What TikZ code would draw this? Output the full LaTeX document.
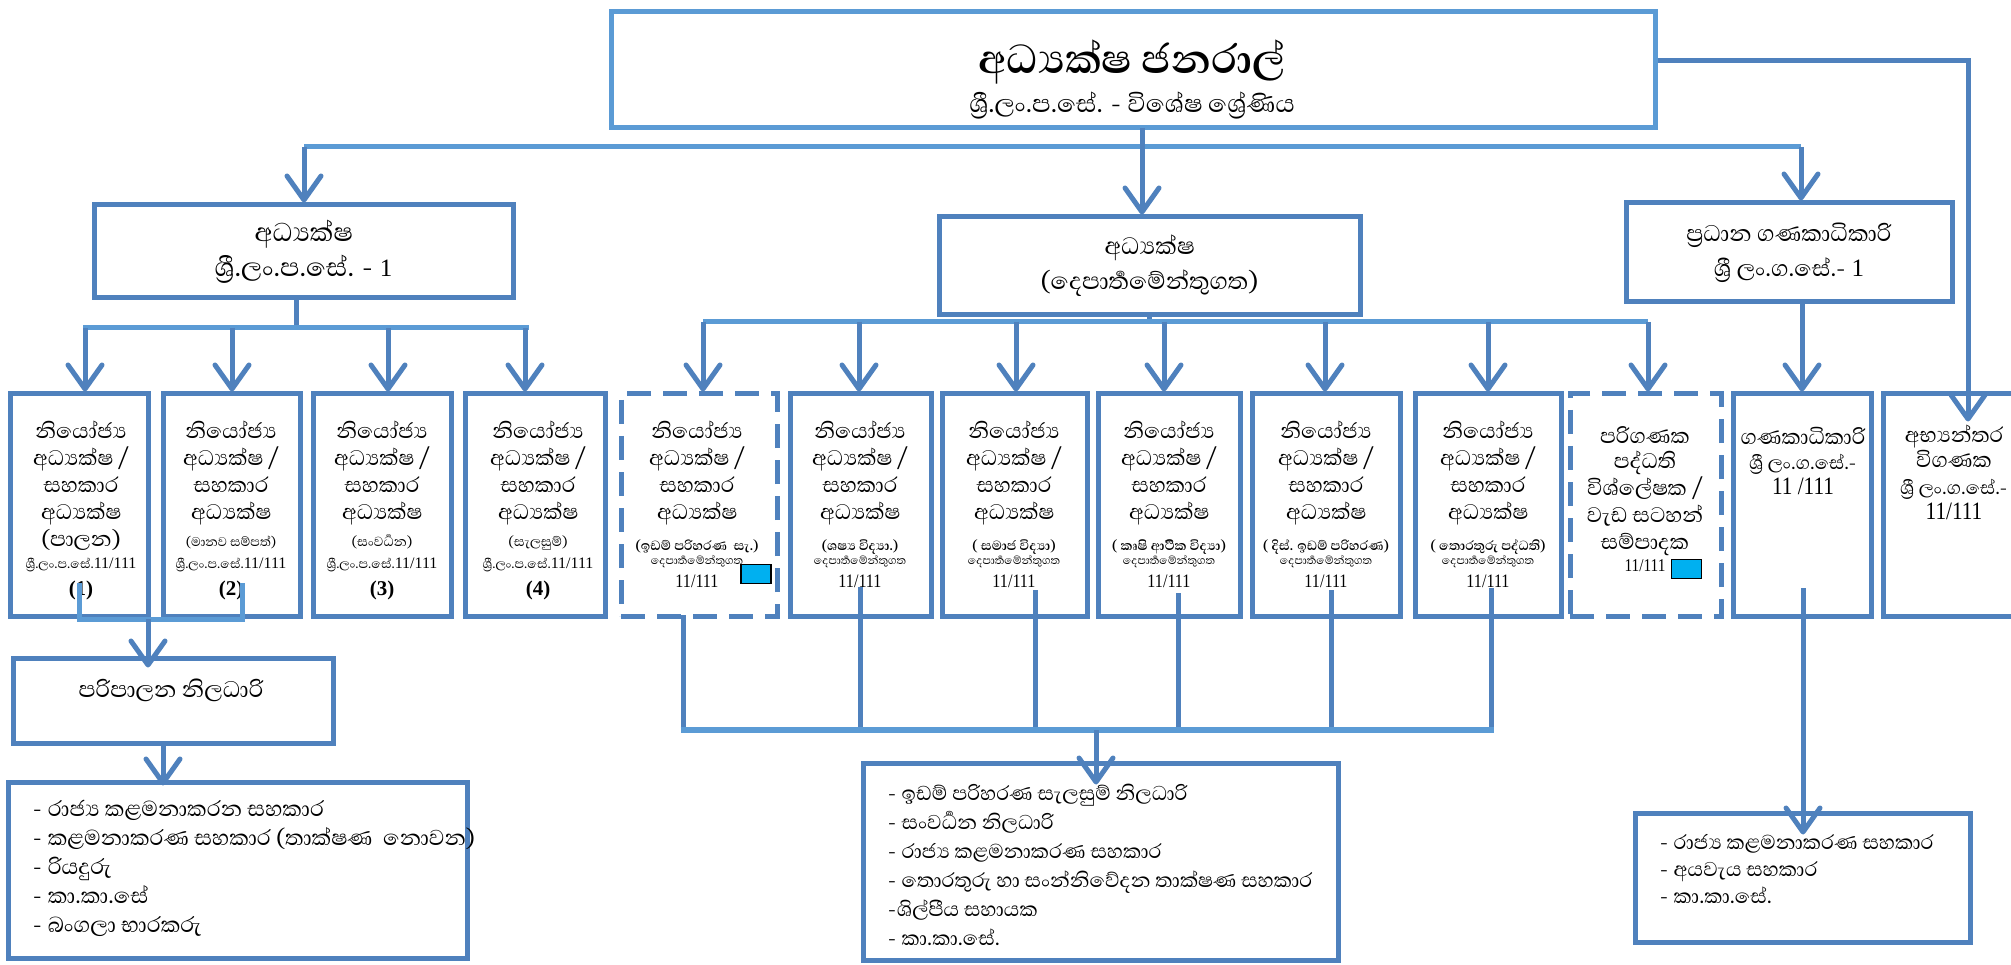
\documentclass[tikz,border=0pt]{standalone}
\usepackage{fontspec}
\usepackage{graphicx}
\setmainfont{Liberation Serif}
\newfontfamily\slf[Script=Sinhala, Scale=1.35]{Abhaya Libre}
\usetikzlibrary{arrows.meta}
\definecolor{blu}{RGB}{79,129,189}
\definecolor{lblu}{RGB}{91,155,213}
\definecolor{sqc}{RGB}{0,176,240}
\newcommand\zj{^^^^200d}
\newcommand\Adh{අධ්\zj යක්ෂ}
\newcommand\Shri{ශ්\zj රී}
\newcommand\Niy{නියෝජ්\zj ය}
\newcommand\Dep{දෙපාර්\zj තමේන්තුගත}
\newcommand\Vid{විද්\zj යා}
\newcommand\Raj{රාජ්\zj ය}
\newcommand\Num[2]{{\rmfamily\fontsize{#1}{#1}\selectfont\scalebox{0.85}[1]{#2}}}
\lineskiplimit=-100pt
\begin{document}
\begin{tikzpicture}[x=1pt,y=-1pt,
  bx/.style={draw=blu, line width=5pt, fill=white, inner sep=0pt, rectangle},
  dbx/.style={bx, dash pattern=on 24pt off 12pt},
  rowbox/.style={bx, minimum height=222pt},
  drowbox/.style={dbx, minimum height=222pt},
  ln/.style={draw=blu, line width=5pt},
  lln/.style={draw=lblu, line width=5pt},
  arr/.style={draw=blu, line width=5pt, -{Straight Barb[length=24pt,width=34pt,round]}},
  tx/.style={align=center, inner sep=0pt},
  rt/.style={tx, anchor=north, font=\slf\fontsize{20}{27}\selectfont},
  lt/.style={tx, align=left, anchor=north west},
  sq/.style={draw=black, line width=1.5pt, fill=sqc, minimum width=30pt, minimum height=19pt, inner sep=0pt}
]
\useasboundingbox (0,0) rectangle (2011,965);
\fill[white] (0,0) rectangle (2011,965);

% ---------- top ----------
\node[bx, draw=lblu, minimum width=1044pt, minimum height=116pt] (gm) at (1133,70) {};
\node[tx, font=\slf\fontsize{23.5}{39}\selectfont] (gmt) at (1132,79) {{\bfseries\fontsize{38.5}{40}\selectfont \Adh{} ජනරාල්}\\ \Shri.ලං.ප.සේ. - විශේෂ ශ්\zj රේණිය};

% ---------- second level ----------
\node[bx, tx, font=\slf\fontsize{24.5}{35}\selectfont, minimum width=419pt, minimum height=93pt] (dl) at (303.5,251.5) {\Adh\\ \Shri.ලං.ප.සේ. - {\rmfamily\fontsize{25}{25}\selectfont 1}};
\node[bx, tx, font=\slf\fontsize{22.5}{35}\selectfont, minimum width=421pt, minimum height=98pt] (dm) at (1149.5,266) {\Adh\\ (\Dep)};
\node[bx, tx, font=\slf\fontsize{21.5}{35}\selectfont, minimum width=326pt, minimum height=99pt] (pr) at (1789,252.5) {ප්\zj රධාන ගණකාධිකාරි\\ \Shri{} ලං.ග.සේ.- {\rmfamily\fontsize{25}{25}\selectfont 1}};

% ---------- third level boxes ----------
\node[rowbox, minimum width=138pt] (b1) at (79,505) {};
\node[rowbox, minimum width=137pt] (b2) at (231.5,505) {};
\node[rowbox, minimum width=138pt] (b3) at (382,505) {};
\node[rowbox, minimum width=140pt] (b4) at (535,505) {};
\node[drowbox, minimum width=156pt] (b5) at (699,505) {};
\node[rowbox, minimum width=141pt] (b6) at (860.5,505) {};
\node[rowbox, minimum width=145pt] (b7) at (1014.5,505) {};
\node[rowbox, minimum width=142pt] (b8) at (1169,505) {};
\node[rowbox, minimum width=148pt] (b9) at (1326,505) {};
\node[rowbox, minimum width=146pt] (b10) at (1488,505) {};
\node[drowbox, minimum width=151pt] (b11) at (1645.5,505) {};
\node[rowbox, minimum width=138pt] (b12) at (1802,505) {};
\node[rowbox, minimum width=142pt] (b13) at (1954,505) {};

\node[rt] (t1) at (81,421) {\Niy\\ \Adh{} /\\ සහකාර\\ \Adh\\ (පාලන)\\[-5pt] {\fontsize{12}{14}\selectfont \Shri.ලං.ප.සේ.{\rmfamily\fontsize{16}{16}\selectfont 11/111}}\\[0pt] {\rmfamily\bfseries\fontsize{21}{21}\selectfont (1)}};
\node[rt] (t2) at (231,421) {\Niy\\ \Adh{} /\\ සහකාර\\ \Adh\\ {\fontsize{12}{14}\selectfont (මානව සම්පත්)}\\[-5pt] {\fontsize{12}{14}\selectfont \Shri.ලං.ප.සේ.{\rmfamily\fontsize{16}{16}\selectfont 11/111}}\\[0pt] {\rmfamily\bfseries\fontsize{21}{21}\selectfont (2)}};
\node[rt] (t3) at (382,421) {\Niy\\ \Adh{} /\\ සහකාර\\ \Adh\\ {\fontsize{12.5}{14}\selectfont (සංවර්\zj ධන)}\\[-5pt] {\fontsize{12}{14}\selectfont \Shri.ලං.ප.සේ.{\rmfamily\fontsize{16}{16}\selectfont 11/111}}\\[0pt] {\rmfamily\bfseries\fontsize{21}{21}\selectfont (3)}};
\node[rt] (t4) at (538,421) {\Niy\\ \Adh{} /\\ සහකාර\\ \Adh\\ {\fontsize{12.5}{14}\selectfont (සැලසුම්)}\\[-5pt] {\fontsize{12}{14}\selectfont \Shri.ලං.ප.සේ.{\rmfamily\fontsize{16}{16}\selectfont 11/111}}\\[0pt] {\rmfamily\bfseries\fontsize{21}{21}\selectfont (4)}};
\node[rt] (t5) at (697,421) {\Niy\\ \Adh{} /\\ සහකාර\\ \Adh\\[4pt] {\bfseries\fontsize{12.5}{14}\selectfont (ඉඩම් පරිහරණ\ \ සැ.)}\\[-13pt] {\fontsize{10.5}{13}\selectfont \Dep}\\[-4pt] \Num{19}{11/111}};
\node[rt] (t6) at (860,421) {\Niy\\ \Adh{} /\\ සහකාර\\ \Adh\\[4pt] {\bfseries\fontsize{12.5}{14}\selectfont (ශෂ්\zj ය \Vid.)}\\[-13pt] {\fontsize{10.5}{13}\selectfont \Dep}\\[-4pt] \Num{19}{11/111}};
\node[rt] (t7) at (1014,421) {\Niy\\ \Adh{} /\\ සහකාර\\ \Adh\\[4pt] {\bfseries\fontsize{12.5}{14}\selectfont ( සමාජ \Vid)}\\[-13pt] {\fontsize{10.5}{13}\selectfont \Dep}\\[-4pt] \Num{19}{11/111}};
\node[rt] (t8) at (1169,421) {\Niy\\ \Adh{} /\\ සහකාර\\ \Adh\\[4pt] {\bfseries\fontsize{12.5}{14}\selectfont ( කෘෂි ආර්\zj ථික \Vid)}\\[-13pt] {\fontsize{10.5}{13}\selectfont \Dep}\\[-4pt] \Num{19}{11/111}};
\node[rt] (t9) at (1326,421) {\Niy\\ \Adh{} /\\ සහකාර\\ \Adh\\[4pt] {\bfseries\fontsize{12.5}{14}\selectfont ( දිස්. ඉඩම් පරිහරණ)}\\[-13pt] {\fontsize{10.5}{13}\selectfont \Dep}\\[-4pt] \Num{19}{11/111}};
\node[rt] (t10) at (1488,421) {\Niy\\ \Adh{} /\\ සහකාර\\ \Adh\\[4pt] {\bfseries\fontsize{12.5}{14}\selectfont ( තොරතුරු පද්ධති)}\\[-13pt] {\fontsize{10.5}{13}\selectfont \Dep}\\[-4pt] \Num{19}{11/111}};
\node[rt] (t11) at (1645,426) {පරිගණක\\[-2pt] පද්ධති\\ විශ්ලේෂක /\\ වැඩ සටහන්\\ සම්පාදක\\[-5pt] \Num{18}{11/111}};
\node[rt] (t12) at (1803,427) {ගණකාධිකාරි\\[-2pt] {\fontsize{17.5}{18}\selectfont \Shri{} ලං.ග.සේ.-}\\[-2pt] \Num{25}{11 /111}};
\node[rt] (t13) at (1954,425) {අභ්\zj යන්තර\\[-2pt] විගණක\\ {\fontsize{17.5}{18}\selectfont \Shri{} ලං.ග.සේ.-}\\[-2pt] \Num{25}{11/111}};

\node[sq] (q5) at (756,574) {};
\node[sq] (q11) at (1686.5,569) {};

% ---------- bottom boxes ----------
\node[bx, minimum width=320pt, minimum height=85pt] (pp) at (173,700.5) {};
\node[tx, font=\slf\fontsize{21.5}{30}\selectfont] (ppt) at (171,690) {පරිපාලන නිලධාරි};
\node[bx, minimum width=459pt, minimum height=176pt] (lL) at (237.5,870) {};
\node[lt, font=\slf\fontsize{20.5}{29}\selectfont] (lLt) at (33,800) {- \Raj{} කළමනාකරන සහකාර\\ - කළමනාකරණ සහකාර (තාක්ෂණ\ \ නොවන)\\ - රියදුරු\\ - කා.කා.සේ\\ - බංගලා භාරකරු};
\node[bx, minimum width=475pt, minimum height=197pt] (lM) at (1100.5,861.5) {};
\node[lt, font=\slf\fontsize{19}{29}\selectfont] (lMt) at (888,784) {- ඉඩම් පරිහරණ සැලසුම් නිලධාරි\\ - සංවර්\zj ධන නිලධාරි\\ - \Raj{} කළමනාකරණ සහකාර\\ - තොරතුරු හා සංන්නිවේදන තාක්ෂණ සහකාර\\ -ශිල්පීය සහායක\\ - කා.කා.සේ.};
\node[bx, minimum width=335pt, minimum height=129pt] (lR) at (1802.5,877.5) {};
\node[lt, font=\slf\fontsize{19}{28}\selectfont] (lRt) at (1660,834) {- \Raj{} කළමනාකරණ සහකාර\\[-1pt] - අයවැය සහකාර\\[-1pt] - කා.කා.සේ.};

% ---------- connectors ----------
% top level
\coordinate (tV) at (1142,128);
\coordinate (tL) at (304,147);
\coordinate (tR) at (1801,147);
\coordinate (tE) at (1968,61);
\draw[lln] (tL) -- (tR);
\draw[arr] (tV) -- (tV |- dm.north);
\draw[arr] (tL) -- (tL |- dl.north);
\draw[arr] (tR) -- (tR |- pr.north);
\draw[arr, shorten >=-30pt] (tE -| gm.east) -- (tE) -- (tE |- b13.north);

% left director
\coordinate (lV) at (296,328);
\coordinate (l1) at (85,328);
\coordinate (l2) at (232,328);
\coordinate (l3) at (388,328);
\coordinate (l4) at (525,328);
\draw[ln] (lV |- dl.south) -- (lV);
\draw[lln] ([xshift=-2pt]l1) -- ([xshift=4pt]l4);
\draw[arr] (l1) -- (l1 |- b1.north);
\draw[arr] (l2) -- (l2 |- b2.north);
\draw[arr] (l3) -- (l3 |- b3.north);
\draw[arr] (l4) -- (l4 |- b4.north);

% departmental director
\coordinate (mV) at (1149,322);
\coordinate (m5) at (703,322);
\coordinate (m6) at (859,322);
\coordinate (m7) at (1016,322);
\coordinate (m8) at (1164,322);
\coordinate (m9) at (1325,322);
\coordinate (m10) at (1488,322);
\coordinate (m11) at (1648,322);
\draw[ln] (mV |- dm.south) -- (mV);
\draw[lln] (m5) -- (m11);
\draw[arr] (m5) -- (m5 |- b5.north);
\draw[arr] (m6) -- (m6 |- b6.north);
\draw[arr] (m7) -- (m7 |- b7.north);
\draw[arr] (m8) -- (m8 |- b8.north);
\draw[arr] (m9) -- (m9 |- b9.north);
\draw[arr] (m10) -- (m10 |- b10.north);
\draw[arr] (m11) -- (m11 |- b11.north);

% chief accountant
\draw[arr] (b12.north |- pr.south) -- (b12.north);

% boxes 1,2 -> administrative officer
\coordinate (s1) at (79,583);
\coordinate (s2) at (242,583);
\coordinate (sJ) at (148,619);
\draw[lln] (s1) -- (s1 |- sJ) -- (s2 |- sJ) -- (s2);
\draw[arr, shorten >=-12pt] (sJ) -- (sJ |- pp.north);
\coordinate (pA) at (163,743);
\draw[arr, shorten >=-6pt] (pA) -- (pA |- lL.north);

% departmental boxes -> staff list
\coordinate (rJ) at (1096,730);
\coordinate (r5) at (683,615);
\coordinate (r6) at (860,587);
\coordinate (r7) at (1035,590);
\coordinate (r8) at (1178,593);
\coordinate (r9) at (1331,590);
\coordinate (r10) at (1491,588);
\draw[ln] (r5) -- (r5 |- rJ);
\draw[ln] (r6) -- (r6 |- rJ);
\draw[ln] (r7) -- (r7 |- rJ);
\draw[ln] (r8) -- (r8 |- rJ);
\draw[ln] (r9) -- (r9 |- rJ);
\draw[ln] (r10) -- (r10 |- rJ);
\draw[lln, line width=6pt] ([xshift=-2.5pt]r5 |- rJ) -- ([xshift=2.5pt]r10 |- rJ);
\draw[arr, shorten >=-24pt] (rJ) -- (rJ |- lM.north);

% accountant -> staff list
\coordinate (g1) at (1803,588);
\draw[arr, shorten >=-24pt] (g1) -- (g1 |- lR.north);
\end{tikzpicture}
\end{document}
